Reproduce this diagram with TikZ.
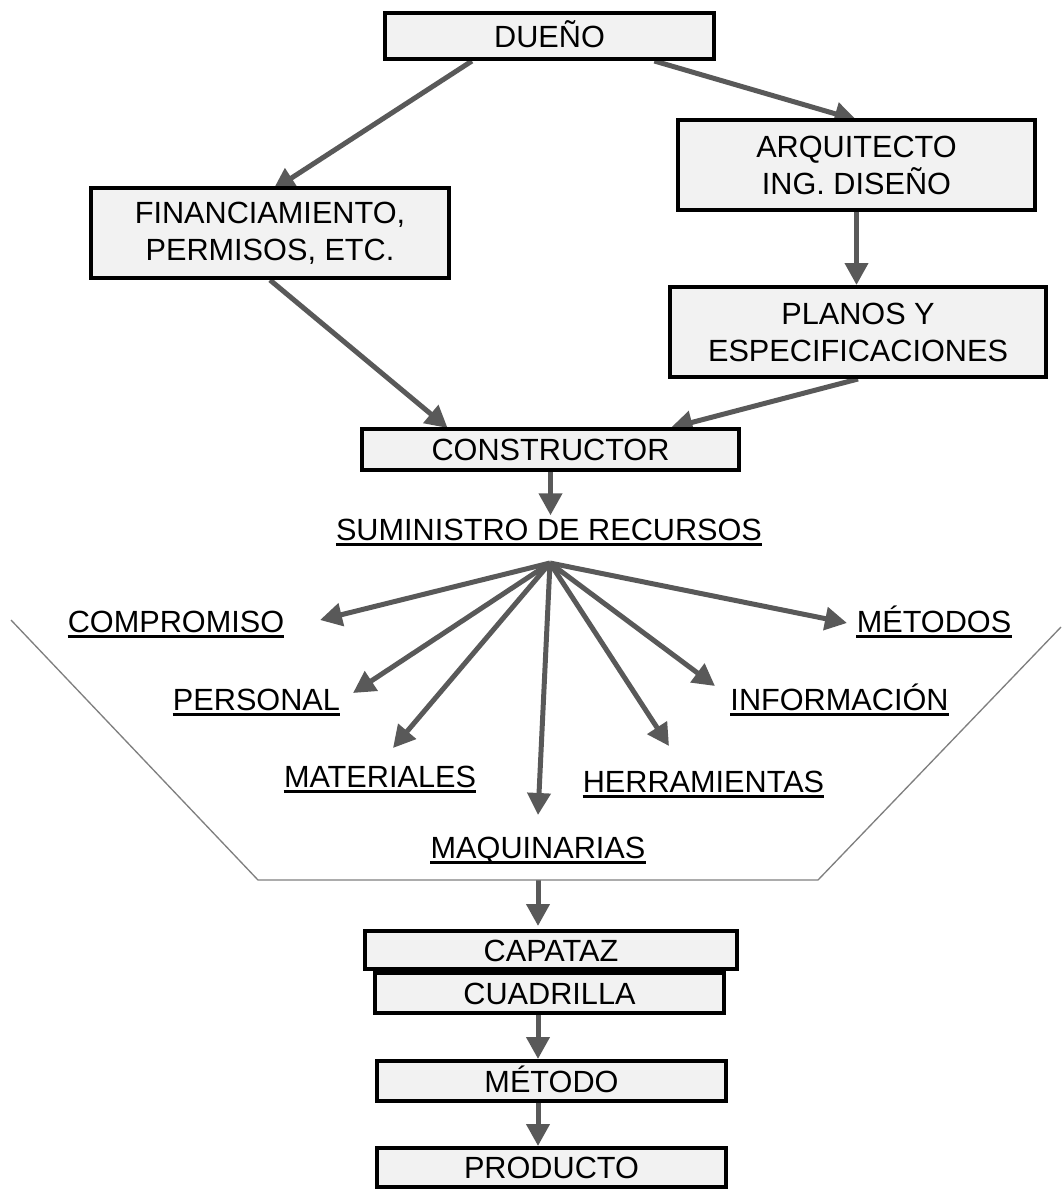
\documentclass[tikz,border=0pt]{standalone}
\usepackage{fontspec}
\setmainfont{Liberation Sans}
\usetikzlibrary{arrows.meta,calc}
\pgfdeclarelayer{background}
\pgfsetlayers{background,main}
\definecolor{boxfill}{HTML}{F2F2F2}
\definecolor{arrowgray}{HTML}{595959}
\definecolor{funnelgray}{HTML}{7F7F7F}

\begin{document}
\begin{tikzpicture}[x=0.75pt,y=-0.75pt,
  every node/.style={font=\fontsize{23}{27.7}\selectfont},
  stepbox/.style={draw=black, line width=3pt, fill=boxfill, align=center, inner sep=0pt},
  onebox/.style={stepbox, text height=16.5pt, text depth=0pt},
  reslabel/.style={inner sep=0pt, anchor=base},
  flow/.style={draw=arrowgray, line width=3.75pt, -{Triangle[length=16.5pt,width=17pt]}},
  uline/.style={line width=1.6pt, black},
  funnel/.style={draw=funnelgray, line width=1pt}]

\useasboundingbox (0,0) rectangle (1061,1189);

% upper boxes
\node[onebox, minimum width=246.75pt, minimum height=34.5pt] (dueno) at (549.5,36) {DUEÑO};
\node[stepbox, minimum width=267.75pt, minimum height=67.5pt] (arq) at (856.5,165) {ARQUITECTO\\ING. DISEÑO};
\node[stepbox, minimum width=268.5pt, minimum height=67.5pt] (fin) at (270,233) {FINANCIAMIENTO,\\PERMISOS, ETC.};
\node[stepbox, minimum width=282pt, minimum height=67.5pt] (planos) at (858,332) {PLANOS Y\\ESPECIFICACIONES};
\node[onebox, minimum width=282.75pt, minimum height=30.75pt] (constr) at (550.5,449.5) {CONSTRUCTOR};

% resources
\node[reslabel] (sumi) at (549,540) {SUMINISTRO DE RECURSOS};
\node[reslabel] (comp) at (176,632) {COMPROMISO};
\node[reslabel] (pers) at (256.5,710) {PERSONAL};
\node[reslabel] (mate) at (380,787) {MATERIALES};
\node[reslabel] (maqu) at (538,858) {MAQUINARIAS};
\node[reslabel] (herr) at (703.5,792) {HERRAMIENTAS};
\node[reslabel] (info) at (839.5,710) {INFORMACIÓN};
\node[reslabel] (meto) at (934,632) {MÉTODOS};
\foreach \n in {sumi,comp,pers,mate,maqu,herr,info,meto}
  \draw[uline] ([shift={(0,4.5)}]\n.base west) -- ([shift={(0,4.5)}]\n.base east);

% funnel outline
\coordinate (fTL) at (11,620);
\coordinate (fBL) at (258,880);
\coordinate (fBR) at (818,880);
\coordinate (fTR) at (1061,627);
\coordinate (fb) at (538,880);
\draw[funnel] (fTL) -- (fBL) -- (fBR) -- (fTR);

% lower boxes
\node[onebox, minimum width=261.75pt, minimum height=30pt] (cuad) at (549.5,993) {CUADRILLA};
\node[onebox, minimum width=279pt, minimum height=28.5pt] (capa) at (551,950) {CAPATAZ};
\node[onebox, minimum width=261.75pt, minimum height=30pt] (metodo) at (551.5,1081) {MÉTODO};
\node[onebox, minimum width=261.75pt, minimum height=29.25pt] (prod) at (551.5,1167.5) {PRODUCTO};

% fan end points
\coordinate (hub) at (550,563);
\coordinate (tComp) at (320,620);
\coordinate (tPers) at (353,693);
\coordinate (tMate) at (393,748);
\coordinate (tMaqu) at (538,815);
\coordinate (tHerr) at (669,746);
\coordinate (tInfo) at (715,686);
\coordinate (tMeto) at (847,623);

\begin{pgfonlayer}{background}
  \draw[flow] ($(dueno.south west)!0.267!(dueno.south east)$) -- ($(fin.north)+(3,4)$);
  \draw[flow] ($(dueno.south west)!0.815!(dueno.south east)$) -- ($(arq.north)+(0,2)$);
  \draw[flow] (arq.south) -- (arq.south |- planos.north);
  \draw[flow] (fin.south) -- ($(constr.north west)!0.23!(constr.north east)+(0,1)$);
  \draw[flow] (planos.south) -- ($(constr.north west)!0.815!(constr.north east)+(0,1)$);
  \draw[flow, shorten >=2.25pt] (constr.south) -- (constr.south |- sumi.north);
  \foreach \t in {tComp,tPers,tMate,tMaqu,tHerr,tInfo,tMeto}
    \draw[flow] (hub) -- (\t);
  \draw[flow, shorten >=2.25pt] (fb) -- (fb |- capa.north);
  \draw[flow] (cuad.south -| fb) -- (fb |- metodo.north);
  \draw[flow] (metodo.south -| fb) -- (fb |- prod.north);
\end{pgfonlayer}
\end{tikzpicture}
\end{document}
